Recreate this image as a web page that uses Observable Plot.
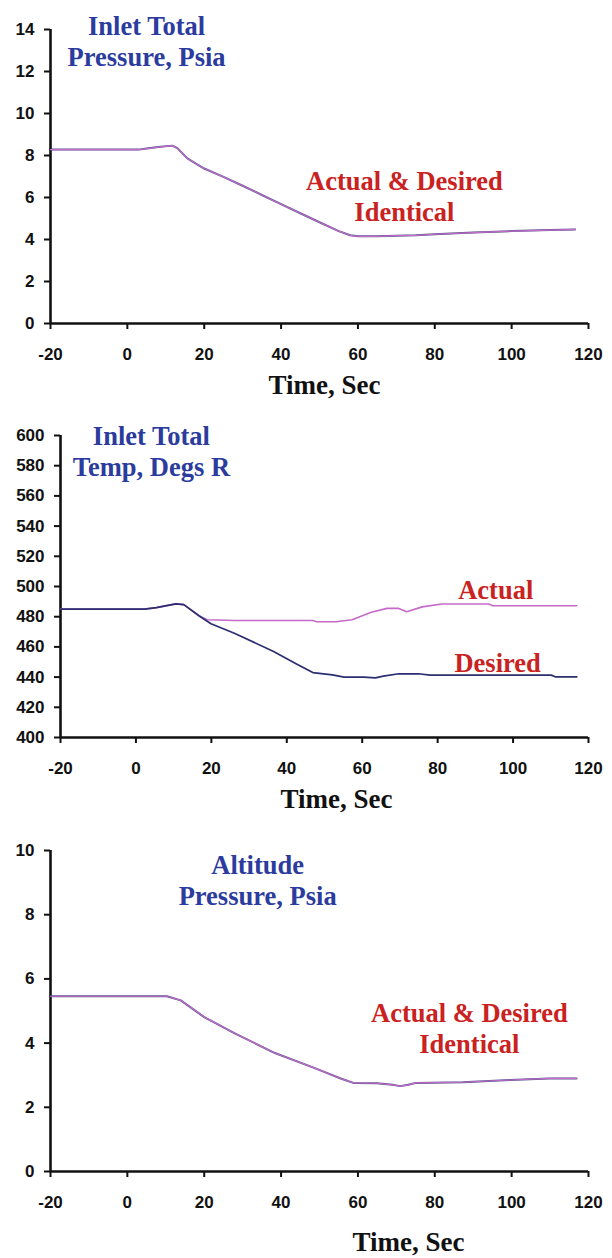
<!DOCTYPE html>
<html><head><meta charset="utf-8">
<script src="https://cdn.jsdelivr.net/npm/d3@7"></script>
<script src="https://cdn.jsdelivr.net/npm/@observablehq/plot@0.6"></script>
<style>
body{margin:0;background:#fff}
#c svg{display:block}
</style>
</head><body><div id="c"></div>
<script>
// ---- shared ----
const xTicks = [-20, 0, 20, 40, 60, 80, 100, 120];
const xDomain = [-20, 120];
const xTitle = "Time, Sec";
const actualColor = "#c56ac9";
const desiredColor = "#2b2e70";
const blueText = "#2b3c9e";
const redText = "#c9221f";

// ---- chart 1: inlet total pressure (actual & desired identical) ----
const p1Time  = [-20, 3, 5, 8, 11.7, 13, 15.7, 20, 25, 30, 35, 40, 45, 50, 55, 58, 60, 65, 70, 75, 80, 90, 100, 110, 116.5];
const p1Value = [8.28, 8.28, 8.33, 8.4, 8.47, 8.35, 7.85, 7.38, 6.98, 6.56, 6.12, 5.68, 5.25, 4.82, 4.4, 4.2, 4.15, 4.15, 4.18, 4.2, 4.25, 4.33, 4.4, 4.45, 4.48];
const p1Ticks = [0, 2, 4, 6, 8, 10, 12, 14];
const p1Domain = [0, 14];
const p1Title = "Inlet Total\nPressure, Psia";
const p1Note = "Actual & Desired\nIdentical";

// ---- chart 2: inlet total temperature ----
const p2ActualTime  = [-20, 2.3, 5.4, 10.6, 12.7, 16.8, 18.9, 22, 26.1, 46.9, 47.9, 53.1, 57.3, 62.4, 66.6, 69.7, 71.8, 75.9, 81.1, 93.6, 94.6, 116.9];
const p2ActualValue = [485, 485, 486, 488.5, 488, 480.5, 478, 477.8, 477.5, 477.5, 476.7, 476.7, 478, 483, 485.5, 485.5, 483.3, 486.5, 488.4, 488.4, 487.3, 487.3];
const p2DesiredTime  = [-20, 2.3, 5.4, 10.6, 12.7, 16.8, 19.9, 26.1, 36.5, 42.7, 46.9, 52.1, 55.2, 60.4, 63.5, 65.6, 69.7, 74.9, 78, 110.1, 111.2, 116.9];
const p2DesiredValue = [485, 485, 486, 488.5, 488, 480.5, 475.3, 469, 457, 448.5, 443, 441.5, 440, 440, 439.5, 440.6, 442.2, 442.2, 441.3, 441.3, 440.2, 440.2];
const p2Ticks = [400, 420, 440, 460, 480, 500, 520, 540, 560, 580, 600];
const p2Domain = [400, 600];
const p2Title = "Inlet Total\nTemp, Degs R";
const p2NoteActual = "Actual";
const p2NoteDesired = "Desired";

// ---- chart 3: altitude pressure (actual & desired identical) ----
const p3Time  = [-20, 10.3, 13.9, 20, 28.2, 38.4, 48.6, 55.7, 58.8, 64.9, 69, 71, 73.1, 75.1, 87.3, 99.6, 109.8, 116.9];
const p3Value = [5.46, 5.46, 5.33, 4.81, 4.29, 3.69, 3.23, 2.89, 2.76, 2.75, 2.7, 2.66, 2.7, 2.76, 2.78, 2.85, 2.9, 2.9];
const p3Ticks = [0, 2, 4, 6, 8, 10];
const p3Domain = [0, 10];
const p3Title = "Altitude\nPressure, Psia";
const p3Note = "Actual & Desired\nIdentical";

const sans = "'Liberation Sans', Arial, sans-serif";
const serif = "'Liberation Serif', 'Times New Roman', serif";

function rows(ts, vs) { return ts.map((t, i) => ({t, v: vs[i]})); }

function note(x, y, label, fill) {
  return Plot.text([{x, y, label}], {
    x: "x", y: "y", text: "label", fill,
    fontFamily: serif, fontWeight: "bold", fontSize: 26.5,
    lineAnchor: "top", lineHeight: 1.16, textAnchor: "middle"
  });
}

function chart({height, marginLeft, marginTop, marginBottom, yDomain, yTicks, lines, notes, titleDx, titleDy}) {
  return Plot.plot({
    width: 612, height, marginLeft, marginRight: 24, marginTop, marginBottom,
    style: {fontFamily: sans, fontWeight: "bold", fontSize: "17px", color: "#111", background: "#fff"},
    x: {domain: xDomain},
    y: {domain: yDomain},
    marks: [
      Plot.axisX({ticks: xTicks, tickFormat: d => String(d), tickSize: 6, tickPadding: 18, strokeWidth: 2, label: null, fontWeight: "bold", fontSize: 17}),
      Plot.axisY({ticks: yTicks, tickFormat: d => String(d), tickSize: 6, tickPadding: 10, strokeWidth: 2, label: null, fontWeight: "bold", fontSize: 17}),
      Plot.ruleX([xDomain[0]], {stroke: "#111", strokeWidth: 2.6}),
      Plot.ruleY([yDomain[0]], {stroke: "#111", strokeWidth: 2.6}),
      ...lines.map(l => Plot.line(l.data, {x: "t", y: "v", stroke: l.color, strokeWidth: l.width, strokeOpacity: l.opacity ?? 1})),
      ...notes,
      Plot.text([xTitle], {text: d => d, frameAnchor: "bottom", lineAnchor: "bottom", dx: titleDx, dy: titleDy,
        fontFamily: serif, fontWeight: "bold", fontSize: 27, fill: "#111"})
    ]
  });
}

const c = document.getElementById("c");

const p1Data = rows(p1Time, p1Value);
c.append(chart({
  height: 400, marginLeft: 50, marginTop: 29, marginBottom: 77,
  yDomain: p1Domain, yTicks: p1Ticks,
  lines: [
    {data: p1Data, color: desiredColor, width: 2.0, opacity: 0.8},
    {data: p1Data, color: actualColor, width: 1.2}
  ],
  notes: [note(5.0, 14.76, p1Title, blueText), note(72.1, 7.38, p1Note, redText)],
  titleDx: 5, titleDy: 70
}));

c.append(chart({
  height: 420, marginLeft: 60, marginTop: 35, marginBottom: 83,
  yDomain: p2Domain, yTicks: p2Ticks,
  lines: [
    {data: rows(p2ActualTime, p2ActualValue), color: actualColor, width: 1.6},
    {data: rows(p2DesiredTime, p2DesiredValue), color: desiredColor, width: 1.7}
  ],
  notes: [
    note(4.1, 607.9, p2Title, blueText),
    note(95.4, 506, p2NoteActual, redText),
    note(95.9, 457.6, p2NoteDesired, redText)
  ],
  titleDx: 12, titleDy: 70
}));

const p3Data = rows(p3Time, p3Value);
c.append(chart({
  height: 438, marginLeft: 50, marginTop: 30, marginBottom: 87,
  yDomain: p3Domain, yTicks: p3Ticks,
  lines: [
    {data: p3Data, color: desiredColor, width: 2.0, opacity: 0.8},
    {data: p3Data, color: actualColor, width: 1.2}
  ],
  notes: [note(33.9, 9.94, p3Title, blueText), note(89.0, 5.33, p3Note, redText)],
  titleDx: 89, titleDy: 79
}));
</script>
</body></html>
